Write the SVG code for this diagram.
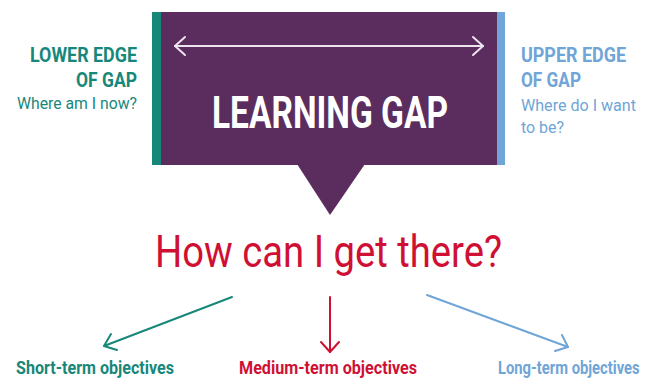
<svg xmlns="http://www.w3.org/2000/svg" width="649" height="380" viewBox="0 0 649 380">
<style>
text{font-family:Roboto,"Liberation Sans",sans-serif}
.b{font-weight:700}
.teal{fill:#17877a}
.blue{fill:#6fa5d7}
.red{fill:#cf1034}
.ln{fill:none;stroke-width:2;stroke-linecap:round;stroke-linejoin:round}
</style>
<rect width="649" height="380" fill="#ffffff"/>
<g id="gap">
<rect x="152" y="12" width="353" height="153" fill="#5b2d5e"/>
<polygon points="297,164 365,164 330,215" fill="#5b2d5e"/>
<rect x="152" y="12" width="9" height="153" fill="#17877a"/>
<rect x="497" y="12" width="8" height="153" fill="#6fa5d7"/>
<g class="ln" stroke="#ece4ee">
<line x1="175" y1="46" x2="483" y2="46"/>
<polyline points="185,37 175,46 185,55"/>
<polyline points="473,37 483,46 473,55"/>
</g>
<text x="212" y="128" class="b" font-size="44" fill="#ffffff" textLength="236" lengthAdjust="spacingAndGlyphs">LEARNING GAP</text>
</g>
<g id="lower">
<text class="b teal" font-size="21" x="30" y="62" textLength="107" lengthAdjust="spacingAndGlyphs">LOWER EDGE</text>
<text class="b teal" font-size="21" x="76" y="87" textLength="61" lengthAdjust="spacingAndGlyphs">OF GAP</text>
<text class="teal" font-size="16" x="17" y="109" textLength="120" lengthAdjust="spacingAndGlyphs">Where am I now?</text>
</g>
<g id="upper">
<text class="b blue" font-size="21" x="521" y="62" textLength="105" lengthAdjust="spacingAndGlyphs">UPPER EDGE</text>
<text class="b blue" font-size="21" x="521" y="87" textLength="60" lengthAdjust="spacingAndGlyphs">OF GAP</text>
<text class="blue" font-size="16" x="521" y="111" textLength="115" lengthAdjust="spacingAndGlyphs">Where do I want</text>
<text class="blue" font-size="16" x="521" y="133" textLength="43" lengthAdjust="spacingAndGlyphs">to be?</text>
</g>
<g id="question">
<text class="red" font-size="45" x="155" y="267" textLength="347" lengthAdjust="spacingAndGlyphs">How can I get there?</text>
</g>
<g id="connectors">
<g class="ln" stroke="#17877a">
<line x1="232" y1="297" x2="104" y2="346"/>
<polyline points="111,334 104,346 117,350"/>
</g>
<g class="ln" stroke="#cf1034">
<line x1="330" y1="297" x2="330" y2="352"/>
<polyline points="321,342 330,352 339,342"/>
</g>
<g class="ln" stroke="#6fa5d7">
<line x1="427" y1="295" x2="568" y2="347"/>
<polyline points="555,351 568,347 562,335"/>
</g>
</g>
<g id="short">
<text class="b teal" font-size="18" x="16" y="374" textLength="158" lengthAdjust="spacingAndGlyphs">Short-term objectives</text>
</g>
<g id="medium">
<text class="b red" font-size="18" x="239" y="374" textLength="178" lengthAdjust="spacingAndGlyphs">Medium-term objectives</text>
</g>
<g id="long">
<text class="b blue" font-size="18" transform="translate(498,374) scale(0.8,1)" x="0" y="0" textLength="177" lengthAdjust="spacingAndGlyphs">Long-term objectives</text>
</g>
</svg>
